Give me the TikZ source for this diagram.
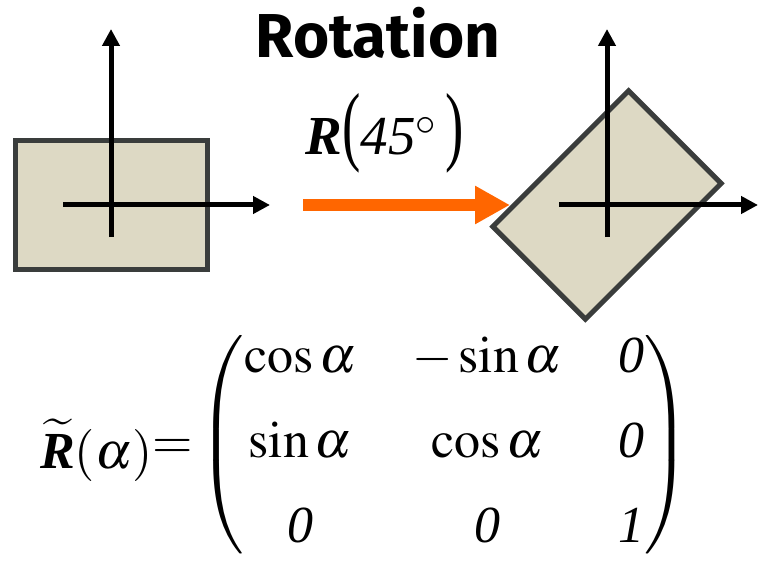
\documentclass[tikz,border=0pt]{standalone}
\usepackage{amsmath}
\usepackage{graphicx}
\usepackage{mathptmx}
\usepackage{fontspec}
\setmainfont{Liberation Serif}
\newfontfamily\titlefont{Fira Sans}
\usetikzlibrary{arrows.meta, calc}
\definecolor{boxfill}{RGB}{221,217,196}
\definecolor{boxline}{RGB}{58,61,60}
\definecolor{rotorange}{RGB}{255,102,0}

\begin{document}
\begin{tikzpicture}[x=1pt, y=-1pt,
  box/.style={draw=boxline, fill=boxfill, line width=5pt, minimum width=192pt, minimum height=128pt, inner sep=0pt},
  axis/.style={-{Triangle[length=17pt,width=17pt]}, line width=5pt}]
  \useasboundingbox (0,0) rectangle (759,561);
  % Title
  \node[font=\titlefont\bfseries\fontsize{62}{70}\selectfont, anchor=base] (title) at (378,58) {Rotation};
  % Original frame
  \node[box] (src) at (111,205) {};
  \coordinate (sx0) at (63,205);
  \coordinate (sx1) at (270,205);
  \coordinate (sy0) at (111,237);
  \coordinate (sy1) at (111,29);
  \draw[axis] (sx0) -- (sx1);
  \draw[axis] (sy0) -- (sy1);
  % Rotated frame
  \node[box, rotate=45, minimum height=131pt] (dst) at (607,205) {};
  \coordinate (dx0) at (559,205);
  \coordinate (dx1) at (758,205);
  \coordinate (dy0) at (607,237);
  \coordinate (dy1) at (607,29);
  \draw[axis] (dx0) -- (dx1);
  \draw[axis] (dy0) -- (dy1);
  % Rotation arrow
  \coordinate (r0) at (303,205);
  \coordinate (r1) at (510,205);
  \draw[rotorange, line width=12pt, -{Triangle[length=35pt,width=36pt]}] (r0) -- (r1);
  \node[font=\fontsize{55}{66}\selectfont, anchor=base] (ang) at (385,155)
    {\textbf{\textit{R}}\scalebox{1}[1.6]{(}\textit{45}$^{\circ}$\,\scalebox{1}[1.6]{)}};
  % Matrix
  \node[anchor=west, inner sep=0pt, font=\fontsize{52}{62}\selectfont] (rmat) at (40,445)
    {\setlength{\arraycolsep}{28pt}\delimitershortfall=20pt%
     \raisebox{-10pt}{$\widetilde{\text{\bfseries\itshape R}}(\alpha)$}${=}\begin{pmatrix}
       \cos\alpha & -\sin\alpha & \textit{0}\\[23pt]
       \sin\alpha & \cos\alpha & \textit{0}\\[23pt]
       \textit{0} & \textit{0} & \textit{1}
     \end{pmatrix}$};
\end{tikzpicture}
\end{document}
